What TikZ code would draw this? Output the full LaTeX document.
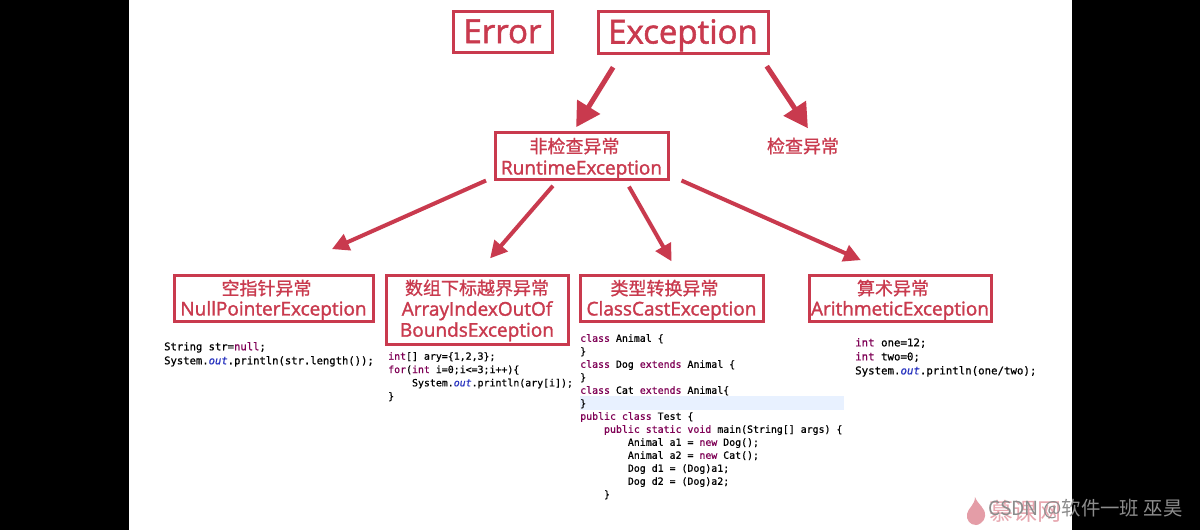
\documentclass[tikz,border=0pt]{standalone}
\usepackage{fontspec}
\setmainfont{Open Sans}[FakeBold=1.6]
\setmonofont{DejaVu Sans Mono}[FakeBold=0.7]
\newfontfamily\cjk{Noto Sans CJK SC}[FakeBold=0.9]
\newfontfamily\cjkthin{Noto Sans CJK SC}
\usetikzlibrary{arrows.meta}
\definecolor{exred}{HTML}{C93A4E}
\definecolor{kwpurple}{HTML}{7F0055}
\definecolor{fldblue}{HTML}{2A35C0}
\newcommand{\kw}[1]{\textcolor{kwpurple}{#1}}
\newcommand{\fld}[1]{\textcolor{fldblue}{\itshape #1}}
\newcommand{\cn}[2][20]{\rule{0pt}{#1pt}{\cjk\fontsize{18}{20}\selectfont #2}\hspace*{14pt}}
\newcommand{\cnc}[2][17]{\rule{0pt}{#1pt}{\cjk\fontsize{18}{20}\selectfont #2}}
\tikzset{
  bigbox/.style={draw=exred,line width=3pt,inner sep=0pt,text=exred,text height=23pt,text depth=0pt,font=\fontsize{33}{36}\selectfont},
  subbox/.style={draw=exred,line width=3pt,inner sep=0pt,text=exred,align=center,font=\fontsize{19}{21.5}\selectfont},
  lowbox/.style={subbox,minimum height=46pt,font=\fontsize{19}{20.5}\selectfont},
  arr/.style={draw=exred,line width=4pt,-{Triangle[length=17pt,width=17pt]}},
  bigarr/.style={draw=exred,line width=5pt,-{Triangle[length=24pt,width=26pt]}},
  codetext/.style={anchor=north west,inner sep=0pt,align=left,text=black}
}
\begin{document}
\begin{tikzpicture}[x=1pt,y=-1pt]
\fill[black] (0,0) rectangle (1200,530);
\fill[white] (129,0) rectangle (1072,530);
\fill[blue!60!cyan!9] (580,396) rectangle (844,410);
\node[bigbox,minimum width=99pt,minimum height=41pt] (err) at (502.5,31.5) {Error};
\node[bigbox,minimum width=170pt,minimum height=42pt] (exc) at (683,32) {Exception};
\node[subbox,minimum width=173pt,minimum height=46pt] (rt) at (581.5,156) {\cn{非检查异常}\\RuntimeException};
\node[text=exred,inner sep=0pt,font=\cjk\fontsize{18}{20}\selectfont] (chk) at (803,146) {检查异常};
\node[lowbox,minimum width=199pt] (nul) at (273.5,298) {\cn[19]{空指针异常}\\NullPointerException};
\node[subbox,minimum width=182pt,minimum height=69pt,font=\fontsize{19}{21}\selectfont] (idx) at (477,309.5) {\cnc{数组下标越界异常}\\ArrayIndexOutOf\\BoundsException};
\node[lowbox,minimum width=183pt] (cast) at (671.5,298) {\cn[19]{类型转换异常}\\ClassCastException};
\node[lowbox,minimum width=182pt] (ari) at (900,298) {\cn[19]{算术异常}\\ArithmeticException};
\draw[bigarr,shorten <=15pt,shorten >=5pt] ([xshift=-62pt]exc.south) -- ([xshift=-8pt]rt.north);
\draw[bigarr,shorten <=14pt,shorten >=11pt] ([xshift=76pt]exc.south) -- ([xshift=11pt]chk.north);
\draw[arr,shorten >=60pt] ([xshift=-95.5pt]rt.south) -- ([xshift=3.6pt]nul.north);
\draw[arr,shorten <=7pt,shorten >=20pt] ([xshift=-24pt]rt.south) -- (idx.north);
\draw[arr,shorten <=7pt,shorten >=14pt] ([xshift=44pt]rt.south) -- ([xshift=7pt]cast.north);
\draw[arr,shorten >=33pt] ([xshift=12pt]rt.south east) -- ([xshift=-9pt]ari.north);
\node[codetext,font=\ttfamily\fontsize{10.55}{14}\selectfont] (code1) at (164,342) {String str=\kw{null};\\System.\fld{out}.println(str.length());};
\node[codetext,font=\ttfamily\fontsize{9.9}{13.3}\selectfont] (code2) at (388,352) {\kw{int}[] ary=\{1,2,3\};\\\kw{for}(\kw{int} i=0;i<=3;i++)\{\\\phantom{xxxx}System.\fld{out}.println(ary[i]);\\\}};
\node[codetext,font=\ttfamily\fontsize{9.9}{13}\selectfont] (code3) at (580,334) {\kw{class} Animal \{\\\}\\\kw{class} Dog \kw{extends} Animal \{\\\}\\\kw{class} Cat \kw{extends} Animal\{\\\}\\\kw{public class} Test \{\\\phantom{xxxx}\kw{public static void} main(String[] args) \{\\\phantom{xxxxxxxx}Animal a1 = \kw{new} Dog();\\\phantom{xxxxxxxx}Animal a2 = \kw{new} Cat();\\\phantom{xxxxxxxx}Dog d1 = (Dog)a1;\\\phantom{xxxxxxxx}Dog d2 = (Dog)a2;\\\phantom{xxxx}\}};
\node[codetext,font=\ttfamily\fontsize{10.75}{14}\selectfont] (code4) at (855,338) {\kw{int} one=12;\\\kw{int} two=0;\\System.\fld{out}.println(one/two);};
% watermark
\fill[exred!50] (975,497) .. controls (978,505) and (986,508) .. (985,516) .. controls (984,523) and (978,525) .. (976,525) .. controls (970,525) and (966,520) .. (967,514) .. controls (968,508) and (975,505) .. (975,497);
\node[text=exred!45,inner sep=0pt,font=\cjkthin\fontsize{24}{26}\selectfont] (mark) at (1025,511) {慕课网};
\node[text=black!45,inner sep=0pt,anchor=west,font=\cjkthin\fontsize{19.4}{22}\selectfont] (csdn) at (988,509) {CSDN @软件一班 巫昊};
\end{tikzpicture}
\end{document}
